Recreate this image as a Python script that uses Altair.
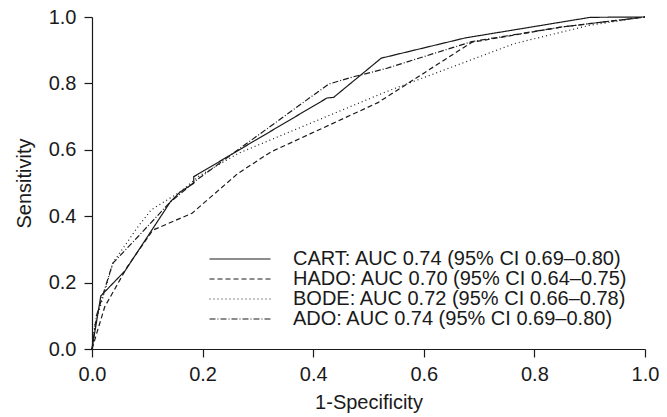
import altair as alt
import pandas as pd

labels = [
    "CART: AUC 0.74 (95% CI 0.69–0.80)",
    "HADO: AUC 0.70 (95% CI 0.64–0.75)",
    "BODE: AUC 0.72 (95% CI 0.66–0.78)",
    "ADO: AUC 0.74 (95% CI 0.69–0.80)",
]

cart_x = [0, 0.016, 0.06, 0.142, 0.16, 0.184, 0.184, 0.425, 0.437, 0.523, 0.675, 0.901, 1.0]
cart_y = [0, 0.16, 0.236, 0.444, 0.474, 0.499, 0.519, 0.756, 0.758, 0.876, 0.937, 0.999, 1.0]

hado_x = [0, 0.023, 0.064, 0.11, 0.181, 0.264, 0.324, 0.517, 0.687, 0.85, 1.0]
hado_y = [0, 0.127, 0.248, 0.358, 0.409, 0.529, 0.594, 0.742, 0.924, 0.97, 1.0]

bode_x = [0, 0.005, 0.038, 0.083, 0.107, 0.16, 0.193, 0.264, 0.532, 0.764, 0.9, 1.0]
bode_y = [0, 0.07, 0.26, 0.368, 0.419, 0.474, 0.52, 0.589, 0.775, 0.92, 0.975, 1.0]

ado_x = [0, 0.008, 0.0375, 0.083, 0.14, 0.19, 0.264, 0.428, 0.473, 0.532, 0.687, 0.85, 1.0]
ado_y = [0, 0.1, 0.258, 0.338, 0.44, 0.51, 0.6, 0.798, 0.82, 0.845, 0.926, 0.97, 1.0]

dashes = [[1, 0], [5, 3], [1, 3], [6, 2, 1, 2]]

rows = []
for lab, xs, ys in zip(labels, [cart_x, hado_x, bode_x, ado_x], [cart_y, hado_y, bode_y, ado_y]):
    for i, (x, y) in enumerate(zip(xs, ys)):
        rows.append({"model": lab, "fpr": x, "tpr": y, "order": i})
df = pd.DataFrame(rows)

FONT = "Liberation Sans"

chart = alt.Chart(df).mark_line(color="#1a1a1a", strokeWidth=1.2).encode(
    x=alt.X("fpr:Q", title="1-Specificity",
            scale=alt.Scale(domain=[0, 1], nice=False, zero=False),
            axis=alt.Axis(values=[0, 0.2, 0.4, 0.6, 0.8, 1.0], format=".1f",
                          grid=False, tickSize=8, labelPadding=7, titlePadding=8,
                          labelFlush=False)),
    y=alt.Y("tpr:Q", title="Sensitivity",
            scale=alt.Scale(domain=[0, 1], nice=False, zero=False),
            axis=alt.Axis(values=[0, 0.2, 0.4, 0.6, 0.8, 1.0], format=".1f",
                          grid=False, tickSize=8, labelPadding=8, titlePadding=14,
                          labelFlush=False)),
    strokeDash=alt.StrokeDash("model:N",
                              scale=alt.Scale(domain=labels, range=dashes),
                              sort=labels,
                              legend=alt.Legend(title=None, orient="none",
                                                legendX=138, legendY=232,
                                                symbolType="M-5,0H5", symbolSize=149,
                                                symbolStrokeWidth=1.2,
                                                symbolStrokeColor="#1a1a1a",
                                                labelFontSize=20, labelFont=FONT,
                                                labelColor="#1a1a1a",
                                                labelOffset=43, rowPadding=0,
                                                padding=0, labelLimit=0)),
    order="order:Q",
).properties(
    width=553, height=332,
    autosize=alt.AutoSizeParams(type="none"),
    padding={"left": 84, "top": 9, "right": 14, "bottom": 70},
).configure_view(stroke=None).configure_axis(
    domainColor="#1a1a1a", tickColor="#1a1a1a", labelColor="#1a1a1a",
    titleColor="#1a1a1a", labelFont=FONT, titleFont=FONT,
    labelFontSize=20, titleFontSize=20, titleFontWeight="normal",
    domainWidth=1.2, tickWidth=1.2,
)

chart.save("out.html", embed_options={"renderer": "svg", "actions": False})
